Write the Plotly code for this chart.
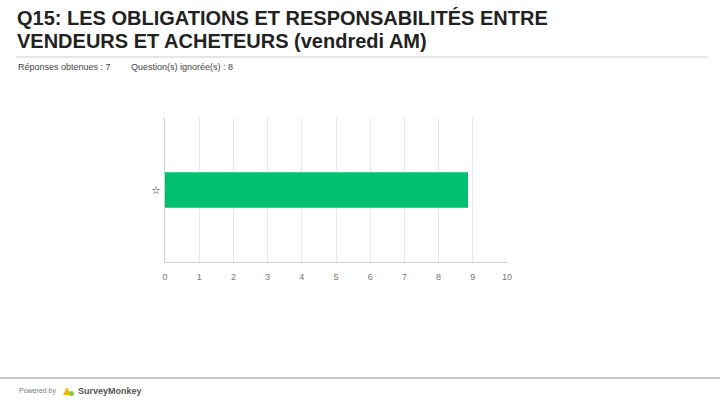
import plotly.graph_objects as go

categories = ["☆"]
values = [8.86]
tick_vals = list(range(0, 11))
tick_labels = [str(v) for v in tick_vals]

title_lines = ["Q15: LES OBLIGATIONS ET RESPONSABILITÉS ENTRE",
               "VENDEURS ET ACHETEURS (vendredi AM)"]
answered = "Réponses obtenues : 7"
skipped = "Question(s) ignorée(s) : 8"

W, H = 720, 405
L, R, T, B = 165, 507, 118, 262

def px(x):
    return (x - L) / (R - L)

def py(y):
    return (B - y) / (B - T)

fig = go.Figure(go.Bar(
    x=values, y=categories, orientation="h",
    marker=dict(color="#00BF6F", line=dict(width=0)),
    width=0.245, hoverinfo="skip",
))

fig.update_layout(
    width=W, height=H,
    margin=dict(l=L, r=W - R, t=T, b=H - B),
    paper_bgcolor="white", plot_bgcolor="white",
    showlegend=False,
    font=dict(family="Liberation Sans, Arial, sans-serif"),
    xaxis=dict(range=[0, 10], tickvals=tick_vals, ticktext=tick_labels,
               showgrid=True, gridcolor="#E6E6E6", gridwidth=1,
               zeroline=False, showline=True, linecolor="#D0D0D0", linewidth=1,
               ticks="", tickfont=dict(size=9, color="#777777"), ticklabelstandoff=6),
    yaxis=dict(range=[-0.5, 0.5], showgrid=False, zeroline=False,
               showline=True, linecolor="#D0D0D0", linewidth=1,
               ticks="", tickfont=dict(size=11, color="#333333"), ticklabelstandoff=1),
)

ann = []
for i, line in enumerate(title_lines):
    ann.append(dict(text="<b>" + line + "</b>", x=px(15), y=py(18 + i * 23),
                    xref="paper", yref="paper", xanchor="left", yanchor="middle",
                    showarrow=False, font=dict(family="Liberation Sans, Arial", size=20, color="#222222")))
ann.append(dict(text=answered, x=px(16), y=py(67), xref="paper", yref="paper",
                xanchor="left", yanchor="middle", showarrow=False,
                font=dict(size=9, color="#444444")))
ann.append(dict(text=skipped, x=px(129), y=py(67), xref="paper", yref="paper",
                xanchor="left", yanchor="middle", showarrow=False,
                font=dict(size=9, color="#444444")))
ann.append(dict(text="Powered by", x=px(17), y=py(391), xref="paper", yref="paper",
                xanchor="left", yanchor="middle", showarrow=False,
                font=dict(size=7, color="#777777")))
ann.append(dict(text="<b>SurveyMonkey</b>", x=px(76), y=py(391), xref="paper", yref="paper",
                xanchor="left", yanchor="middle", showarrow=False,
                font=dict(size=9, color="#555555")))
fig.update_layout(annotations=ann)

shapes = [
    dict(type="line", xref="paper", yref="paper", x0=px(16), x1=px(707), y0=py(57), y1=py(57),
         line=dict(color="#CCCCCC", width=1)),
    dict(type="line", xref="paper", yref="paper", x0=px(0), x1=px(720), y0=py(378), y1=py(378),
         line=dict(color="#C8C8C8", width=2)),
    dict(type="path", xref="paper", yref="paper",
         path=f"M {px(63)},{py(395)} L {px(67)},{py(387)} L {px(71)},{py(395)} Z",
         fillcolor="#F2B705", line=dict(width=0)),
    dict(type="circle", xref="paper", yref="paper", x0=px(69), x1=px(74), y0=py(396), y1=py(391),
         fillcolor="#8DC63F", line=dict(width=0)),
]
fig.update_layout(shapes=shapes)

fig.write_html("out.html", config={"displayModeBar": False},
               post_script="document.body.style.margin='0';document.body.style.overflow='hidden';")
